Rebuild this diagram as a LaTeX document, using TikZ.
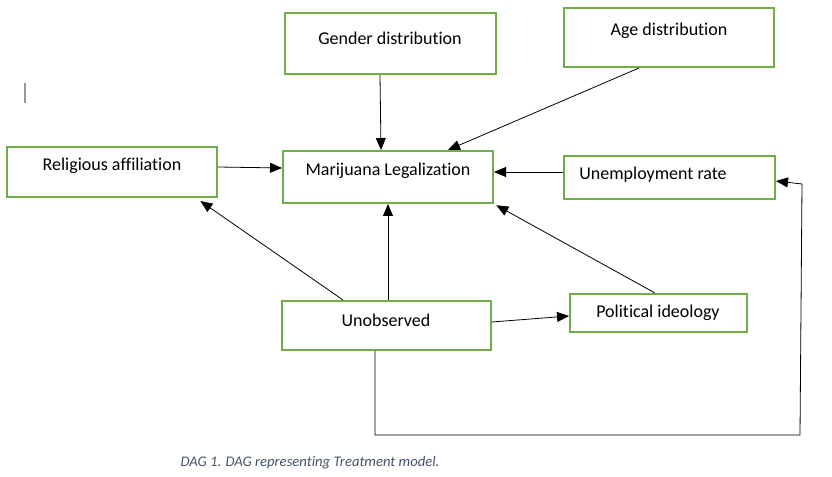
\documentclass[tikz,border=0pt]{standalone}
\usepackage{fontspec}
\setmainfont{Carlito}[Ligatures=NoCommon]
\usetikzlibrary{arrows.meta,fit}
\definecolor{boxgreen}{HTML}{70AD47}
\definecolor{capblue}{HTML}{44546A}

\begin{document}
\begin{tikzpicture}[x=0.75pt, y=-0.75pt,
	every node/.style={font=\fontsize{13.5}{16}\selectfont},
	box/.style={draw=boxgreen, line width=1.5pt, inner sep=0pt},
	arr/.style={-{Triangle[length=9pt,width=7.5pt]}, line width=0.6pt}]
	\useasboundingbox (0,0) rectangle (832,477);
	% boxes
	\node[box, fit={(285,13) (496,74)}] (gender) {};
	\node[box, fit={(564,8) (774,67)}] (age) {};
	\node[box, fit={(7,147) (217,197)}] (relig) {};
	\node[box, fit={(283,151) (493,203)}] (mj) {};
	\node[box, fit={(564,156) (775,199)}] (unemp) {};
	\node[box, fit={(282,301) (491,350)}] (unobs) {};
	\node[box, fit={(570,294) (747,332)}] (polit) {};
	% labels
	\node (gendertxt) at (390,38) {Gender distribution};
	\node (agetxt) at (669,31) {Age distribution};
	\node (religtxt) at (112,166) {Religious affiliation};
	\node (mjtxt) at (388,171) {Marijuana Legalization};
	\node (unemptxt) at (653,175) {Unemployment rate};
	\node (unobstxt) at (386,320) {Unobserved};
	\node (polittxt) at (658,313) {Political ideology};
	% edges
	\draw[arr] (gender.south -| 380,0) -- (mj.north -| 381,0);
	\draw[arr] (age.south -| 639,0) -- (mj.north -| 448,0);
	\draw[arr] (relig.east |- 0,167) -- (mj.west |- 0,168);
	\draw[arr] (unemp.west |- 0,172) -- (mj.east |- 0,172);
	\draw[arr, shorten >=4pt] (unobs.north -| 343,0) -- (relig.south -| 196,0);
	\draw[arr] (unobs.north -| 388,0) -- (mj.south -| 388,0);
	\draw[arr, shorten >=2pt] (polit.north -| 655,0) -- (mj.south east);
	\draw[arr] (unobs.east |- 0,322) -- (polit.west |- 0,316);
	\draw[arr] (unobs.south -| 375,0) -- (375,435) -- (800,435) -- (802,184) -- (unemp.east |- 0,181);
	% stray mark and caption
	\draw[gray!80, line width=0.8pt] (25,83) -- (25,103);
	\node[text=capblue, font=\fontsize{11}{13}\selectfont\itshape] (caption) at (310,463) {DAG 1. DAG representing Treatment model.};
\end{tikzpicture}
\end{document}
